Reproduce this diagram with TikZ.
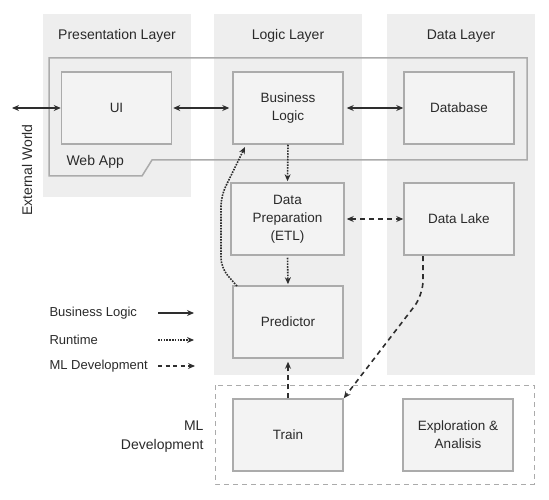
\documentclass[tikz,border=0pt]{standalone}
\usepackage{fontspec}
\setmainfont{Liberation Sans}
\usetikzlibrary{arrows.meta}
\definecolor{layerbg}{HTML}{EEEEEE}
\definecolor{boxfill}{HTML}{F3F3F3}
\definecolor{boxline}{HTML}{ABABAB}
\definecolor{txt}{HTML}{2A2A2A}
\definecolor{ln}{HTML}{2E2E2E}
\tikzset{
  box/.style={draw=boxline, line width=1.5pt, fill=boxfill, minimum width=110pt, minimum height=72pt, inner sep=0pt, align=center, text=txt, font=\fontsize{13.5}{18}\selectfont},
  title/.style={text=txt, font=\fontsize{14}{17}\selectfont},
  lbl/.style={text=txt, font=\fontsize{13}{16}\selectfont},
  tip/.style={-{Stealth[length=7pt,width=6pt]}},
  bitip/.style={{Stealth[length=7pt,width=6pt]}-{Stealth[length=7pt,width=6pt]}},
  bizline/.style={draw=ln, line width=1.6pt},
  runline/.style={draw=ln, line width=1.6pt, dash pattern=on 1.6pt off 1.2pt},
  mlline/.style={draw=ln, line width=1.6pt, dash pattern=on 5pt off 4pt},
}
\begin{document}
\begin{tikzpicture}[x=1pt,y=-1pt]
\useasboundingbox (0,0) rectangle (549,500);
% layer backgrounds
\fill[layerbg] (43,14) rectangle (191,197);
\fill[layerbg] (214,14) rectangle (362,375);
\fill[layerbg] (387,14) rectangle (535,375);
\node[title] (tpres) at (117,36) {Presentation Layer};
\node[title] (tlogic) at (288,36) {Logic Layer};
\node[title] (tdata) at (461,36) {Data Layer};
% web app outline
\draw[boxline, line width=1.5pt] (49,58) -- (527,58) -- (527,160) -- (152,160) -- (142,176) -- (49,176) -- cycle;
\node[lbl, font=\fontsize{14}{17}\selectfont, anchor=west] (webapp) at (63,162) {Web App};
% ML development outline
\draw[boxline, line width=1pt, dash pattern=on 5pt off 4pt] (215,385) rectangle (534,484);
\node[lbl, font=\fontsize{14}{19}\selectfont, align=right, anchor=east] (mldev) at (207,437) {ML\\Development};
% boxes
\node[box] (ui) at (116.5,108) {UI};
\node[box] (bl) at (288,108) {Business\\Logic};
\node[box] (db) at (459,108) {Database};
\node[box, minimum width=113pt] (prep) at (287.5,219) {Data\\Preparation\\(ETL)};
\node[box] (lake) at (459,219) {Data Lake};
\node[box] (pred) at (288,322) {Predictor};
\node[box] (train) at (288,435) {Train};
\node[box] (expl) at (458,435) {Exploration \&\\Analisis};
% external world
\node[lbl, font=\fontsize{14}{17}\selectfont, rotate=90] (ext) at (27,170) {External World};
\coordinate (extend) at (12,108);
% business logic connectors
\draw[bizline, bitip] (extend) -- (ui.west);
\draw[bizline, bitip, shorten <=1pt, shorten >=3pt] (ui.east) -- (bl.west);
\draw[bizline, bitip, shorten <=3pt, shorten >=0pt] (bl.east) -- (db.west);
% runtime connectors
\draw[runline, tip, shorten >=1pt] (bl.south) -- (prep.north);
\draw[runline, tip, shorten <=2pt, shorten >=1pt] (prep.south) -- (pred.north);
\coordinate (p1) at (237,286);
\coordinate (blin) at (245,147);
\draw[runline, tip, rounded corners=10pt] (p1) -- (221,268) -- (221,196) -- (blin);
% ML development connectors
\draw[mlline, bitip, shorten <=2pt] (prep.east) -- (lake.west);
\coordinate (l1) at (423,256);
\draw[mlline, tip, rounded corners=14pt] (l1) -- (423,295) -- (train.north east);
\draw[mlline, tip, shorten >=3pt] (train.north) -- (pred.south);
% legend
\node[lbl, anchor=west] (lg1) at (46,313) {Business Logic};
\node[lbl, anchor=west] (lg2) at (46,340) {Runtime};
\node[lbl, anchor=west] (lg3) at (46,366) {ML Development};
\coordinate (a1s) at (158,313); \coordinate (a1e) at (194,313);
\coordinate (a2s) at (158,340); \coordinate (a2e) at (194,340);
\coordinate (a3s) at (158,366); \coordinate (a3e) at (195,366);
\draw[bizline, tip, line width=1.3pt] (a1s) -- (a1e);
\draw[runline, tip, line width=1.3pt] (a2s) -- (a2e);
\draw[mlline, tip, line width=1.3pt, dash pattern=on 4pt off 3.5pt] (a3s) -- (a3e);
\end{tikzpicture}
\end{document}
